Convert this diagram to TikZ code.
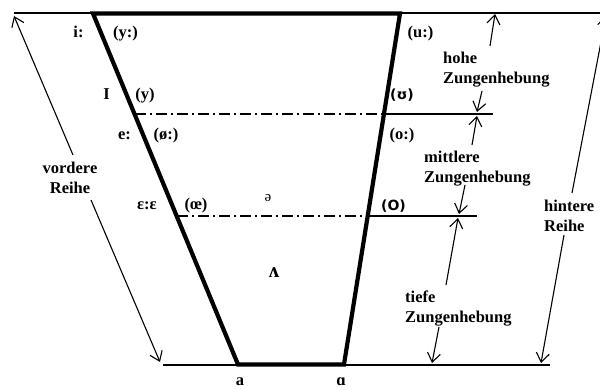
\documentclass[tikz,border=0pt]{standalone}
\usepackage{fontspec}
\setmainfont{Liberation Serif}
\newfontfamily\ipasans{DejaVu Sans}
\usetikzlibrary{arrows.meta}
\begin{document}
\begin{tikzpicture}[x=1pt,y=-1pt,
  thinline/.style={line width=1.1pt},
  thickline/.style={line width=4.2pt, line join=miter},
  dashdot/.style={line width=1.1pt, dash pattern=on 11pt off 4pt on 2pt off 4pt},
  arr/.style={line width=1.1pt, -{Straight Barb[length=9pt,width=13pt,line width=1.1pt]}},
  lbl/.style={font=\fontsize{16.5}{20}\selectfont\bfseries, inner sep=0pt, anchor=base},
  sanslbl/.style={font=\fontsize{14}{17}\selectfont\ipasans\bfseries, inner sep=0pt, anchor=base},
  blk/.style={font=\fontsize{16.5}{20}\selectfont\bfseries, inner sep=0pt, align=left, anchor=west},
]
\useasboundingbox (0,0) rectangle (600,390);
% frame lines
\coordinate (topL) at (14,13);
\coordinate (topR) at (600,13);
\coordinate (botL) at (163,365);
\coordinate (botR) at (550,365);
\draw[thinline] (topL) -- (topR);
\draw[thinline] (botL) -- (botR);
% trapezoid
\coordinate (TL) at (93,13.5);
\coordinate (TR) at (400,13.5);
\coordinate (BR) at (344,364.5);
\coordinate (BL) at (238,364.5);
\draw[thickline] (TL) -- (TR) -- (BR) -- (BL) -- cycle;
% level lines
\coordinate (d1L) at (135,114);
\coordinate (d1R) at (384,114);
\coordinate (s1R) at (493,114);
\coordinate (d2L) at (177,216);
\coordinate (d2R) at (368,216);
\coordinate (s2R) at (477,216);
\draw[dashdot] (d1L) -- (d1R);
\draw[thinline] (d1R) -- (s1R);
\draw[dashdot] (d2L) -- (d2R);
\draw[thinline] (d2R) -- (s2R);
% vowel labels
\node[lbl] (i) at (78.5,38) {i:};
\node[lbl] (yl) at (125.5,38) {(y:)};
\node[lbl] (ul) at (420.5,38) {(u:)};
\node[lbl] (I) at (106.5,100) {I};
\node[lbl] (y) at (145,100) {(y)};
\node[sanslbl] (U) at (402,100) {(ʊ)};
\node[lbl] (el) at (124.5,140) {e:};
\node[lbl] (oel) at (166,140) {(ø:)};
\node[lbl] (ol) at (402,140) {(o:)};
\node[lbl] (eps) at (147,210) {ε:ε};
\node[lbl] (oe) at (196,210) {(œ)};
\node[sanslbl] (O) at (393.5,211) {(O)};
\node[font=\fontsize{15}{17}\selectfont, inner sep=0pt, anchor=base] (schwa) at (268,202) {ə};
\node[lbl, font=\fontsize{21}{24}\selectfont\bfseries] (wedge) at (274,277) {ʌ};
\node[lbl] (a) at (240,385) {a};
\node[lbl] (alpha) at (341,385) {ɑ};
% side labels
\node[lbl, align=center, anchor=center] (vR) at (70,177.5) {vordere\\Reihe};
\node[blk] (hR) at (544,216) {hintere\\Reihe};
\node[blk] (hoch) at (443,69.5) {hohe\\Zungenhebung};
\node[blk] (mitt) at (424,169) {mittlere\\Zungenhebung};
\node[blk] (tief) at (405,309) {tiefe\\Zungenhebung};
% long arrows
\coordinate (vA) at (73,155);
\coordinate (vTip1) at (14,16);
\coordinate (vB) at (91,200);
\coordinate (vTip2) at (160,362);
\draw[arr] (vA) -- (vTip1);
\draw[arr] (vB) -- (vTip2);
\coordinate (hA) at (572,193);
\coordinate (hTip1) at (606,16);
\coordinate (hB) at (564,235);
\coordinate (hTip2) at (541,363);
\draw[arr] (hA) -- (hTip1);
\draw[arr] (hB) -- (hTip2);
% height arrows
\coordinate (h1a) at (490,46);
\coordinate (h1t) at (495,14);
\coordinate (h2a) at (482,91);
\coordinate (h2t) at (477,112);
\coordinate (m1a) at (472,145);
\coordinate (m1t) at (477,116);
\coordinate (m2a) at (465,185);
\coordinate (m2t) at (459,214);
\coordinate (t1a) at (446,285);
\coordinate (t1t) at (458,218);
\coordinate (t2a) at (439,327);
\coordinate (t2t) at (432,363);
\draw[arr] (h1a) -- (h1t);
\draw[arr] (h2a) -- (h2t);
\draw[arr] (m1a) -- (m1t);
\draw[arr] (m2a) -- (m2t);
\draw[arr] (t1a) -- (t1t);
\draw[arr] (t2a) -- (t2t);
\end{tikzpicture}
\end{document}
